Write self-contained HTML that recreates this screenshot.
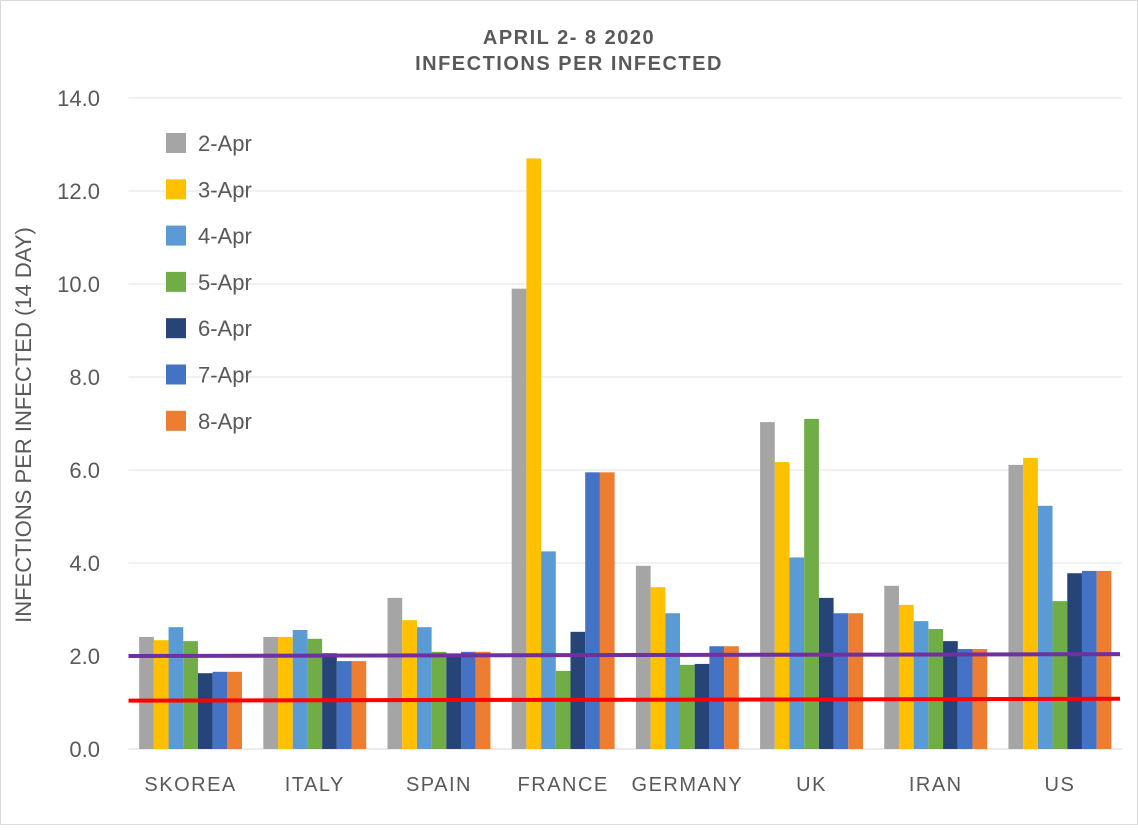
<!DOCTYPE html>
<html><head><meta charset="utf-8"><style>
body{margin:0;background:#fff}
svg text{font-family:"Liberation Sans",sans-serif;fill:#595959}
</style></head><body>
<svg id="chart" width="1138" height="825" xmlns="http://www.w3.org/2000/svg">
<rect x="0.5" y="0.5" width="1137" height="824" fill="#fff" stroke="#d9d9d9"/>
<text x="569" y="44" text-anchor="middle" font-size="20" font-weight="bold" letter-spacing="1.5">APRIL 2- 8 2020</text>
<text x="569" y="70" text-anchor="middle" font-size="20" font-weight="bold" letter-spacing="1.5">INFECTIONS PER INFECTED</text>
<text transform="translate(31,425) rotate(-90)" text-anchor="middle" font-size="22">INFECTIONS PER INFECTED (14 DAY)</text>
<g id="grid"></g><g id="bars"></g><g id="lines"></g><g id="legend"></g>
</svg>
<script>
const categories=["SKOREA","ITALY","SPAIN","FRANCE","GERMANY","UK","IRAN","US"];
const seriesNames=["2-Apr","3-Apr","4-Apr","5-Apr","6-Apr","7-Apr","8-Apr"];
const s2=[2.41,2.41,3.25,9.9,3.94,7.03,3.51,6.11];
const s3=[2.34,2.41,2.77,12.7,3.48,6.17,3.10,6.26];
const s4=[2.62,2.56,2.62,4.25,2.92,4.12,2.75,5.23];
const s5=[2.32,2.37,2.09,1.68,1.81,7.10,2.58,3.18];
const s6=[1.63,2.06,2.04,2.52,1.83,3.25,2.32,3.78];
const s7=[1.66,1.89,2.09,5.95,2.21,2.92,2.15,3.83];
const s8=[1.66,1.89,2.09,5.95,2.21,2.92,2.15,3.83];
const yTicks=[0,2,4,6,8,10,12,14];
const purpleLine=[2.0,2.04];
const redLine=[1.04,1.08];
const series=[s2,s3,s4,s5,s6,s7,s8];
const colors=["#a5a5a5","#ffc000","#5b9bd5","#70ad47","#264478","#4472c4","#ed7d31"];
const NS="http://www.w3.org/2000/svg";
const L=128.5,R=1122,Y0=749,PX=46.5;
const y=v=>Y0-v*PX;
const cw=(R-L)/categories.length, bw=14.7;
function mk(tag,attrs,parent){const e=document.createElementNS(NS,tag);for(const k in attrs)e.setAttribute(k,attrs[k]);document.getElementById(parent).appendChild(e);return e;}
yTicks.forEach(t=>{
 const g=mk('line',{x1:L,x2:R,y1:y(t),y2:y(t),stroke:t===0?'#d9d9d9':'#e3e3e3','stroke-width':1},'grid');
 
 
 const tx=mk('text',{x:100,y:y(t)+8,'text-anchor':'end','font-size':22},'grid');
 tx.textContent=t.toFixed(1);
 
 
});
categories.forEach((c,i)=>{
 const start=L+i*cw+(cw-bw*7)/2;
 series.forEach((s,j)=>{
  const r=mk('rect',{x:start+j*bw,y:y(s[i]),width:bw,height:s[i]*PX,fill:colors[j]},'bars');
  
  
 });
 const tx=mk('text',{x:L+i*cw+cw/2,y:791,'text-anchor':'middle','font-size':20,'letter-spacing':1.5},'bars');
 tx.textContent=c;
 
 
});
const pl=mk('line',{x1:L,x2:R-2,y1:y(purpleLine[0]),y2:y(purpleLine[1]),stroke:'#7030a0','stroke-width':4},'lines');


const rl=mk('line',{x1:L,x2:R-2,y1:y(redLine[0]),y2:y(redLine[1]),stroke:'#ff0000','stroke-width':4},'lines');


seriesNames.forEach((n,j)=>{
 const cy=143+j*46.3;
 const r=mk('rect',{x:166,y:cy-10,width:20,height:20,fill:colors[j]},'legend');
 
 
 const t=mk('text',{x:198,y:cy+8,'font-size':22},'legend');
 t.textContent=n;
 
 
});
</script>
</body></html>
